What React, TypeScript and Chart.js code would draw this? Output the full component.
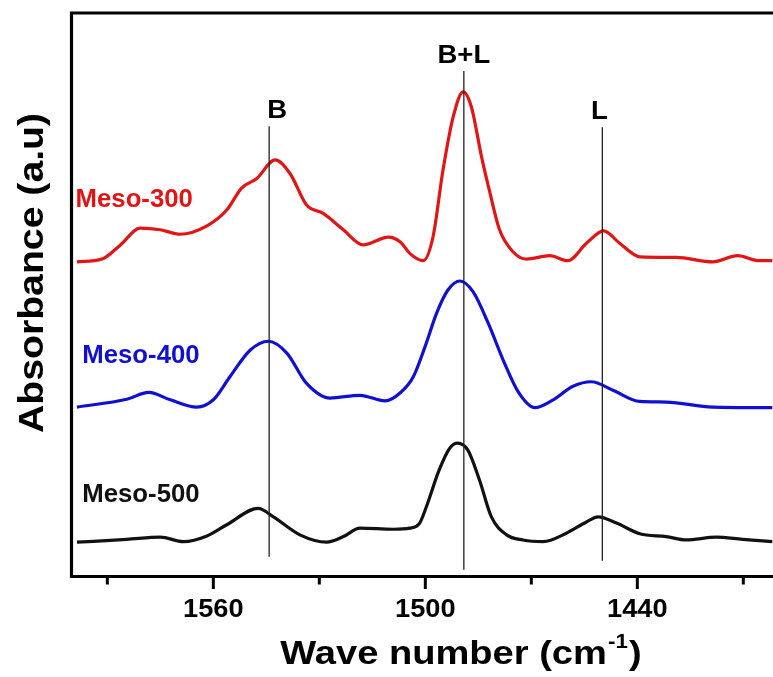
import React, { useEffect, useRef } from 'react';
import { Chart, registerables } from 'chart.js';
Chart.register(...registerables);

// ---- Data (wave number in cm-1, absorbance in arbitrary units, offset stacked) ----
const wn300 = [1598.6, 1591.5, 1586.3, 1580.7, 1575, 1569.4, 1561.8, 1556.2, 1552, 1547.7, 1542.5, 1538.3, 1533.6, 1528.9, 1523.2, 1517.6, 1510.5, 1507, 1504.4, 1500.6, 1497.8, 1495, 1492.1, 1489.3, 1487, 1484.1, 1481.8, 1479, 1475.2, 1471.4, 1464.8, 1459.7, 1454.4, 1449.5, 1445, 1439.3, 1429, 1418.7, 1411.6, 1405.5, 1401.8];
const abs300 = [55.8, 56.3, 58.8, 61.8, 61.5, 60.7, 62.2, 65.0, 68.9, 70.6, 73.9, 71.5, 65.9, 64.4, 61.5, 58.8, 60.2, 59.3, 57.3, 56.0, 60.3, 72.1, 81.6, 86.0, 83.4, 74.5, 68.3, 61.5, 57.6, 56.3, 56.9, 56.0, 59.1, 61.3, 59.1, 56.7, 56.6, 55.8, 56.9, 56.0, 56.0];

const wn400 = [1598.6, 1584.5, 1578.3, 1572.2, 1564.7, 1560, 1555.3, 1549.6, 1544.4, 1539.2, 1533.6, 1527, 1518.5, 1511.4, 1507, 1503.4, 1500.1, 1496.8, 1493.6, 1490.2, 1486.5, 1482.2, 1478, 1473.7, 1469, 1463.8, 1458.2, 1453, 1446.9, 1439.3, 1431.8, 1418.7, 1401.8];
const abs400 = [30.0, 31.4, 32.6, 31.3, 30.0, 31.3, 35.4, 40.1, 41.7, 39.6, 34.2, 31.6, 32.1, 31.1, 32.6, 35.4, 40.7, 46.7, 50.8, 52.4, 50.5, 44.9, 38.4, 32.7, 29.9, 31.3, 33.7, 34.5, 33.0, 31.0, 30.9, 30.0, 29.9];

const wn500 = [1598.6, 1584.5, 1575, 1568.5, 1561.8, 1556.2, 1547.3, 1543, 1535.5, 1527.9, 1523.2, 1518.5, 1509.1, 1504.4, 1501.6, 1499.7, 1496.1, 1493.1, 1490.9, 1488, 1484.7, 1481.3, 1477, 1472.4, 1466.7, 1460.1, 1454.4, 1451.1, 1445.9, 1439.3, 1431.8, 1426.2, 1417.7, 1410.2, 1401.8];
const abs500 = [6.0, 6.5, 6.9, 6.1, 7.1, 9.1, 12.0, 10.5, 7.3, 6.0, 7.0, 8.5, 8.3, 8.5, 9.4, 12.3, 18.8, 22.7, 23.6, 22.4, 17.1, 10.5, 7.3, 6.4, 6.1, 7.6, 9.6, 10.5, 9.4, 7.5, 7.0, 6.4, 6.9, 6.5, 6.1];

const seriesNames = ['Meso-300', 'Meso-400', 'Meso-500'];
const seriesColors = ['#e31414', '#1010d2', '#111111'];

// band marker lines
const bandNames = ['B', 'B+L', 'L'];
const bandWn = [1544.2, 1489.1, 1449.9];
const bandTop = [79.9, 89.7, 79.7];
const bandBottom = [3.4, 1.1, 2.7];

// x axis
const xMin = 1401.6;
const xMax = 1600;
const xStep = 30;
const xLabelStep = 60;

const toPoints = (xs: number[], ys: number[]) => xs.map((x, i) => ({ x, y: ys[i] }));

const FONT = '"Liberation Sans", Arial, Helvetica, sans-serif';

function drawText(ctx: CanvasRenderingContext2D, text: string, x: number, y: number, size: number, color: string, align: CanvasTextAlign, sx: number) {
  ctx.save();
  ctx.translate(x, y);
  ctx.scale(sx, 1);
  ctx.font = `bold ${size}px ${FONT}`;
  ctx.fillStyle = color;
  ctx.textAlign = align;
  ctx.textBaseline = 'alphabetic';
  ctx.fillText(text, 0, 0);
  ctx.restore();
}

const decorPlugin = {
  id: 'decor',
  afterDatasetsDraw(chart: any) {
    const ctx: CanvasRenderingContext2D = chart.ctx;
    const { left, top, bottom } = chart.chartArea;
    const xs = chart.scales.x;
    const ys = chart.scales.y;
    const W = chart.width;

    // frame (left, top, bottom)
    ctx.save();
    ctx.strokeStyle = '#000';
    ctx.lineWidth = 3.2;
    ctx.lineCap = 'square';
    ctx.beginPath();
    ctx.moveTo(W + 5, top);
    ctx.lineTo(left - 0.5, top);
    ctx.lineTo(left - 0.5, bottom + 0.5);
    ctx.lineTo(W + 5, bottom + 0.5);
    ctx.stroke();

    // ticks
    ctx.lineWidth = 3;
    ctx.lineCap = 'butt';
    xs.ticks.forEach((t: any) => {
      const px = xs.getPixelForValue(t.value);
      const major = Math.round(t.value) % xLabelStep === 0;
      ctx.beginPath();
      ctx.moveTo(px, bottom);
      ctx.lineTo(px, bottom + (major ? 13 : 8.5));
      ctx.stroke();
      if (major) {
        drawText(ctx, String(Math.round(t.value)), px, 617, 25, '#000', 'center', 1.09);
      }
    });
    ctx.restore();

    // x title with superscript
    ctx.save();
    const sx = 1.12;
    ctx.font = `bold 34px ${FONT}`;
    const p1 = 'Wave number (cm';
    const p3 = ')';
    const w1 = ctx.measureText(p1).width;
    const w3 = ctx.measureText(p3).width;
    ctx.font = `bold 20px ${FONT}`;
    const p2 = '-1';
    const w2 = ctx.measureText(p2).width;
    const total = (w1 + w2 + w3 + 2) * sx;
    let x0 = 461 - total / 2;
    drawText(ctx, p1, x0, 664, 34, '#000', 'left', sx);
    x0 += (w1 + 1) * sx;
    drawText(ctx, p2, x0, 648, 20, '#000', 'left', sx);
    x0 += (w2 + 1) * sx;
    drawText(ctx, p3, x0, 664, 34, '#000', 'left', sx);
    ctx.restore();

    // y title
    ctx.save();
    ctx.translate(43, 273);
    ctx.rotate(-Math.PI / 2);
    ctx.scale(1.12, 1);
    ctx.font = `bold 35px ${FONT}`;
    ctx.fillStyle = '#000';
    ctx.textAlign = 'center';
    ctx.textBaseline = 'alphabetic';
    ctx.fillText('Absorbance (a.u)', 0, 0);
    ctx.restore();

    // band labels
    const bandDx = [8, 0, -3];
    bandNames.forEach((n, i) => {
      const px = xs.getPixelForValue(bandWn[i]) + bandDx[i];
      const py = ys.getPixelForValue(bandTop[i]) - 8;
      drawText(ctx, n, px, py, 25, '#000', 'center', 1.1);
    });

    // series labels
    const labelWn = [1599.0, 1597.1, 1597.1];
    const labelY = [65.6, 37.9, 13.2];
    seriesNames.forEach((n, i) => {
      const px = xs.getPixelForValue(labelWn[i]);
      const py = ys.getPixelForValue(labelY[i]);
      drawText(ctx, n, px, py, 25, seriesColors[i], 'left', 1.03);
    });
  },
};

export default function App() {
  const ref = useRef<HTMLCanvasElement | null>(null);
  useEffect(() => {
    if (!ref.current) return;
    const bandSets = bandNames.map((n, i) => ({
      label: n,
      data: [{ x: bandWn[i], y: bandBottom[i] }, { x: bandWn[i], y: bandTop[i] }],
      borderColor: '#222',
      borderWidth: 1.3,
      pointRadius: 0,
      tension: 0,
    }));
    const seriesData = [toPoints(wn300, abs300), toPoints(wn400, abs400), toPoints(wn500, abs500)];
    const seriesSets = seriesNames.map((n, i) => ({
      label: n,
      data: seriesData[i],
      borderColor: seriesColors[i],
      borderWidth: 3.2,
      pointRadius: 0,
      cubicInterpolationMode: 'monotone' as const,
      borderJoinStyle: 'round' as const,
    }));
    const chart = new Chart(ref.current, {
      type: 'line',
      data: { datasets: [...bandSets, ...seriesSets] as any },
      options: {
        animation: false,
        responsive: false,
        devicePixelRatio: 1,
        parsing: true,
        layout: { padding: { left: 72, top: 13, right: 0, bottom: 0 } },
        plugins: { legend: { display: false }, tooltip: { enabled: false } },
        scales: {
          x: {
            type: 'linear',
            min: xMin,
            max: xMax,
            reverse: true,
            grid: { display: false },
            border: { display: false },
            ticks: { display: false, stepSize: xStep, includeBounds: false } as any,
            afterFit: (s: any) => { s.height = 101; },
          },
          y: {
            type: 'linear',
            display: false,
            min: 0,
            max: 100,
          },
        },
      },
      plugins: [decorPlugin],
    });
    return () => chart.destroy();
  }, []);
  return (
    <div style={{ position: 'absolute', left: 0, top: 0, width: 773, height: 677, background: '#fff' }}>
      <canvas ref={ref} width={773} height={677} style={{ display: 'block' }} />
    </div>
  );
}
